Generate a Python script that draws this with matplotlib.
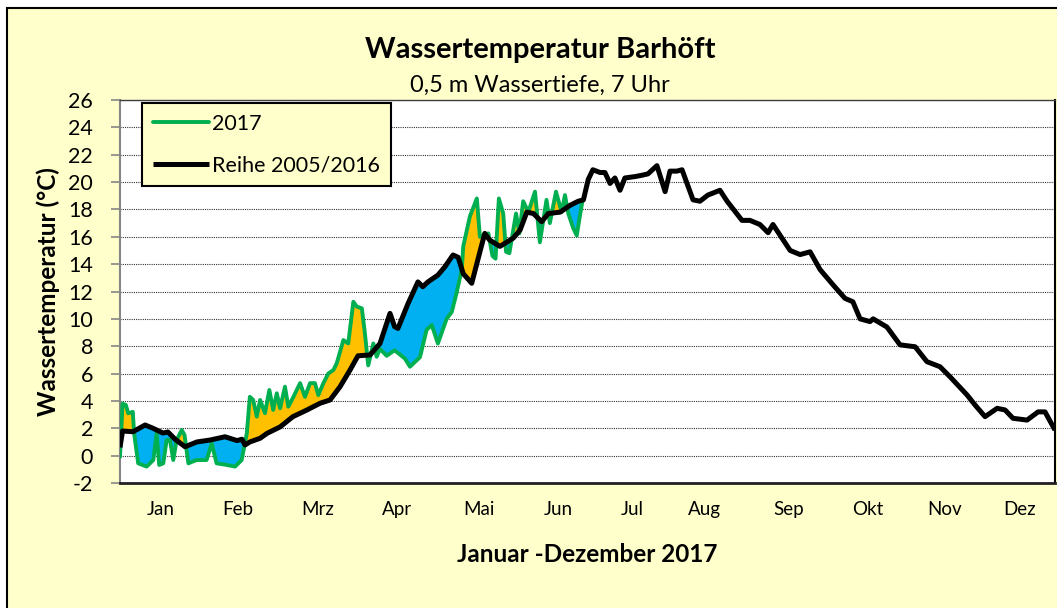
import numpy as np
import matplotlib
matplotlib.use("Agg")
import matplotlib.pyplot as plt
from matplotlib.patches import Rectangle

# day of year / water temperature (degC)
ref_days = [0, 1, 5.1, 9.8, 12.9, 16.8, 18.7, 21.5, 25.4, 30, 35.1, 41, 45.7, 47.6,
            48.8, 50.7, 54.7, 57.4, 62.5, 67.5, 73, 78.1, 82, 85.9, 89.8, 92.9,
            97.6, 101.5, 105.4, 107.2, 108.5, 112.4, 116.3, 118.2, 120.2, 124.1,
            126.8, 130, 132, 134, 137.3, 140.5, 142.4, 144.3, 148.3, 153.5, 156.2,
            158.8, 161.4, 164.6, 167.2, 171.8, 175.7, 178.9, 180.9, 182.8, 184.6,
            187.4, 189.3, 191.3, 193.2, 195.2,
            197.1, 201, 203.8, 206.1, 209.6, 212.8, 214.7, 217.4, 219.4, 223.7,
            226.4, 229.5, 234.2, 237, 242.8, 245.9, 249.8, 253, 254.9, 261.6, 265.5,
            269.4, 273.3, 278.3, 283, 286.1, 288.9, 292.8, 294, 299.4, 304.5, 310.4,
            315, 320.1, 324, 330.7, 333.8, 337.7, 342.4, 345.5, 348.6, 354.1, 358.4,
            361.1, 365]
ref_temp = [0.6, 1.8, 1.75, 2.24, 2.0, 1.65, 1.73, 1.2, 0.65, 1.0, 1.14, 1.38, 1.1, 1.2,
            0.78, 1.0, 1.27, 1.63, 2.1, 2.85, 3.34, 3.83, 4.07, 5.04, 6.26, 7.3,
            7.36, 8.2, 10.4, 9.43, 9.3, 11.1, 12.7, 12.35, 12.7, 13.2,
            13.8, 14.67, 14.5, 13.3, 12.6, 14.9, 16.25, 15.76, 15.3, 15.9, 16.5,
            17.8, 17.7, 17.1, 17.7, 17.8, 18.3, 18.6, 18.7, 20.2, 20.9,
            20.7, 20.7, 19.9, 20.3, 19.4,
            20.3, 20.4, 20.5, 20.6, 21.2, 19.3, 20.8, 20.8, 20.9, 18.7,
            18.6, 19.05, 19.4, 18.6, 17.2, 17.2, 16.9, 16.3, 16.9, 15.0, 14.7,
            14.9, 13.6, 12.5, 11.5, 11.25, 10.0, 9.8, 10.0, 9.4, 8.1, 7.96,
            6.87, 6.5, 5.77, 4.43, 3.7, 2.85, 3.46, 3.34, 2.73, 2.6, 3.2,
            3.2, 1.87]

days_2017 = [0, 1, 2.3, 3.2, 5, 5.5, 7.1, 10.4, 13, 14.3, 15.3, 16.9, 18.2, 19.5, 20.8,
             22.1, 24.1, 25.2, 26.7, 29.9, 33.8, 35.8, 37.7, 41.7, 44.9, 47.5, 49.5,
             50.7, 52, 53.4, 54.7, 56.6, 58.3, 59.8, 61.2, 62.5, 64.4, 65.7, 67.7,
             70.3, 72.2, 74.2, 76.1, 77.4, 79.4, 81.3, 83.3, 84.6, 87.2, 89.1, 91.1,
             92.4, 94.4, 95.6, 96.9, 98.9, 100.2, 101.5, 104.1, 107.2, 111.2, 113.2,
             117.1, 119.7, 121.7, 124.1, 127.5, 129.5, 131.4, 133.4, 134, 136.6, 139.3,
             140.5, 141.8, 143.8, 145.4, 146.6, 147.9, 149.6, 150.7, 152, 154.6, 155.9,
             157.4, 159.4, 162, 163.9, 166.5, 167.8, 170.2, 172.4, 173.7, 175, 177,
             178.3, 179.6, 180.6]
temp_2017 = [-0.08, 3.8, 3.7, 3.1, 3.2, 1.65, -0.56, -0.8, -0.32, 1.63, -0.68, -0.56, 1.14,
             1.14, -0.32, 1.14, 1.87, 1.5, -0.56, -0.32, -0.32, 0.9, -0.56, -0.68, -0.8,
             -0.32, 1.63, 4.3, 4.07, 2.85, 4.07, 3.1, 4.8, 3.34, 4.56, 3.46, 5.04, 3.58,
             4.3, 5.3, 4.3, 5.3, 5.3, 4.43, 5.3, 6.0, 6.26, 6.75, 8.45, 8.2, 11.25,
             10.9, 10.77, 8.95, 6.6, 8.2, 7.23, 7.8, 7.3, 7.7, 7.1, 6.5,
             7.2, 9.2, 9.55, 8.2, 10.0, 10.5, 11.9, 13.6, 15.3, 17.5, 18.8,
             16.0, 16.1, 16.25, 14.6, 14.4, 18.8, 17.7, 14.9, 14.8, 17.7, 16.25,
             18.6, 17.8, 19.3, 15.6, 18.7, 17.0, 19.3, 17.8, 19.05, 17.7, 16.6,
             16.1, 17.6, 18.7]

months = ["Jan", "Feb", "Mrz", "Apr", "Mai", "Jun", "Jul", "Aug", "Sep", "Okt", "Nov", "Dez"]
month_pos = [16, 46, 77, 108, 140, 171, 200, 228, 261, 292, 322, 351]

FONT = ["Lato", "DejaVu Sans"]
plt.rcParams["font.family"] = FONT
plt.rcParams["axes.unicode_minus"] = False

fig = plt.figure(figsize=(10.57, 6.08), dpi=100, facecolor="white")
fig.patches.append(Rectangle((7 / 1057, -0.05), 1.2, 600 / 608 + 0.05,
                             transform=fig.transFigure, facecolor="#FFFFCC",
                             edgecolor="black", linewidth=1.5, zorder=-5))

ax = fig.add_axes([120 / 1057, 125 / 608, 935 / 1057, 383 / 608])
ax.set_zorder(2)
ax.set_facecolor("white")

d17 = np.array(days_2017)
t17 = np.array(temp_2017)
dref = np.array(ref_days)
tref = np.array(ref_temp)

# common grid for the shaded difference
xs = np.union1d(d17, dref[dref <= d17.max()])
g = np.interp(xs, d17, t17)
r = np.interp(xs, dref, tref)
ax.fill_between(xs, g, r, where=g >= r, interpolate=True, color="#FFC000", lw=0, zorder=2)
ax.fill_between(xs, g, r, where=g < r, interpolate=True, color="#00B0F0", lw=0, zorder=2)

ax.plot(d17, t17, color="#00B050", lw=2.8, label="2017", zorder=3,
        solid_joinstyle="round", solid_capstyle="round")
ax.plot(dref, tref, color="black", lw=3.6, label="Reihe 2005/2016", zorder=4,
        solid_joinstyle="round", solid_capstyle="butt")

ax.set_xlim(0, 365)
ax.set_ylim(-2, 26)
ax.set_yticks(np.arange(-2, 27, 2))
ax.set_xticks(month_pos)
ax.set_xticklabels(months)
ax.yaxis.grid(True, linestyle=(0, (1, 1)), color="#333333", lw=0.8, zorder=1)
ax.set_axisbelow(True)

ax.tick_params(axis="y", direction="out", length=6.5, width=1.2, color="#868686",
               labelsize=15.5, pad=13)
ax.tick_params(axis="x", length=0, labelsize=13.5, pad=13)

ax.spines["left"].set_color("#868686")
ax.spines["left"].set_linewidth(1.5)
ax.spines["bottom"].set_color("#202020")
ax.spines["bottom"].set_linewidth(2)
ax.spines["top"].set_color("#404040")
ax.spines["top"].set_linewidth(1)
ax.spines["right"].set_color("black")
ax.spines["right"].set_linewidth(1.5)

ax.set_ylabel("Wassertemperatur (°C)", fontsize=17.5, fontweight="bold", labelpad=6)
ax.set_xlabel("Januar -Dezember 2017", fontsize=17.5, fontweight="bold", labelpad=18)

fig.text(0.511, 0.917, "Wassertemperatur Barhöft", ha="center", va="center",
         fontsize=21, fontweight="bold")
fig.text(0.511, 0.860, "0,5 m Wassertiefe, 7 Uhr", ha="center", va="center",
         fontsize=17)

leg = ax.legend(loc="upper left", bbox_to_anchor=(0.0235, 0.992), fontsize=15.5,
                frameon=True, fancybox=False, edgecolor="black", facecolor="#FFFFCC",
                framealpha=1, handlelength=2.6, handletextpad=0.15, labelspacing=1.0,
                borderpad=0.5, borderaxespad=0)
leg.get_frame().set_linewidth(1.5)

fig.savefig("out.png", dpi=100, facecolor=fig.get_facecolor())
